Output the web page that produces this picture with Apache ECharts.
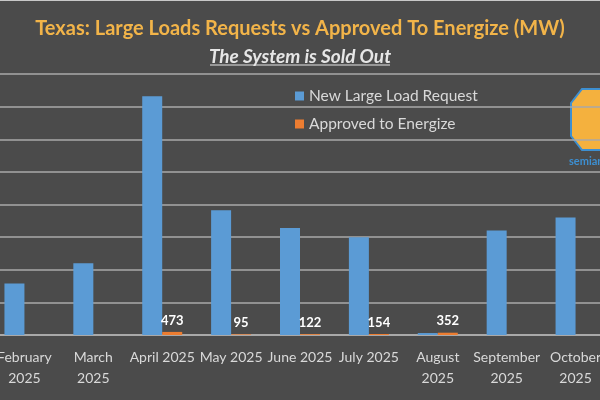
<!DOCTYPE html>
<html>
<head>
<meta charset="utf-8">
<script src="https://cdn.jsdelivr.net/npm/echarts@6/dist/echarts.min.js"></script>
<style>
  html, body { margin: 0; padding: 0; background: #4b4b4b; overflow: hidden; }
  #wrap { position: relative; width: 600px; height: 400px; overflow: hidden; }
  /* the original picture is a crop: the plot runs past both edges */
  #chart { position: absolute; left: -10px; top: 0; width: 620px; height: 400px; }
</style>
</head>
<body>
<div id="wrap"><div id="chart"></div></div>
<script>
// months visible in the (cropped) original picture
const months = ['February\n2025', 'March\n2025', 'April 2025', 'May 2025', 'June 2025',
  'July 2025', 'August\n2025', 'September\n2025', 'October\n2025']
// MW (gridline step = 5000)
const requestMW = [7900, 11000, 36600, 19100, 16400, 15000, 300, 16000, 18000]
const approvedMW = [null, null, 473, 95, 122, 154, 352, null, null]

const chart = echarts.init(document.getElementById('chart'))
const font = 'Lato, "Open Sans", sans-serif'
const dx = 10 // canvas is shifted 10px left

const option = {
  backgroundColor: '#4b4b4b',
  animation: false,
  title: [
    {
      text: 'Texas: Large Loads Requests vs Approved To Energize (MW)',
      left: 'center',
      top: 14,
      textStyle: { color: '#f2b449', fontSize: 20, fontWeight: 'bold', fontFamily: font }
    },
    {
      text: 'The System is Sold Out',
      left: 'center',
      top: 42,
      textStyle: { color: '#e6e6e6', fontSize: 19, fontWeight: 'bold', fontStyle: 'italic', fontFamily: font }
    }
  ],
  legend: {
    orient: 'vertical',
    left: 290 + dx,
    top: 83,
    itemWidth: 9,
    itemHeight: 9,
    itemGap: 12,
    icon: 'rect',
    textStyle: { color: '#d9d9d9', fontSize: 15.5, fontFamily: font }
  },
  grid: { left: 0, width: 630, top: 74, height: 261, containLabel: false },
  xAxis: {
    type: 'category',
    data: months,
    axisTick: { show: false },
    axisLine: { lineStyle: { color: '#a9a9a9', width: 2 } },
    axisLabel: {
      interval: 0,
      margin: 12,
      color: '#d9d9d9',
      fontSize: 14,
      lineHeight: 21,
      fontFamily: font
    }
  },
  yAxis: {
    type: 'value',
    min: 0,
    max: 40000,
    interval: 5000,
    axisLabel: { show: false },
    axisLine: { show: false },
    axisTick: { show: false },
    splitLine: { lineStyle: { color: '#a9a9a9', width: 1.5 } }
  },
  series: [
    {
      name: 'New Large Load Request',
      type: 'bar',
      data: requestMW,
      barWidth: 20,
      barGap: '0%',
      itemStyle: { color: '#5b9bd5' }
    },
    {
      name: 'Approved to Energize',
      type: 'bar',
      data: approvedMW,
      barWidth: 20,
      itemStyle: { color: '#ed7d31' },
      label: {
        show: true,
        position: 'top',
        distance: 5,
        color: '#ffffff',
        fontSize: 13,
        fontWeight: 'bold',
        fontFamily: font
      }
    }
  ],
  graphic: [
    // light strip on the top edge of the screenshot
    { type: 'rect', shape: { x: 0, y: 0, width: 640, height: 1 }, style: { fill: '#c8c8c8' } },
    // subtitle underline
    { type: 'line', shape: { x1: 210 + dx, y1: 65, x2: 390 + dx, y2: 65 }, style: { stroke: '#e6e6e6', lineWidth: 1 } },
    // logo (partly outside the picture)
    {
      type: 'polygon',
      shape: {
        points: [[582 + dx, 89], [612 + dx, 89], [626 + dx, 104], [626 + dx, 134], [612 + dx, 150],
          [582 + dx, 150], [571 + dx, 136], [571 + dx, 103]]
      },
      style: { fill: '#f4b13e', stroke: '#3d8fd1', lineWidth: 2 }
    },
    {
      type: 'text',
      left: 569 + dx,
      top: 156,
      style: { text: 'semianalysis', fill: '#3d8fd1', fontSize: 11, fontWeight: 'bold', fontFamily: font }
    }
  ]
}

chart.setOption(option)
</script>
</body>
</html>
